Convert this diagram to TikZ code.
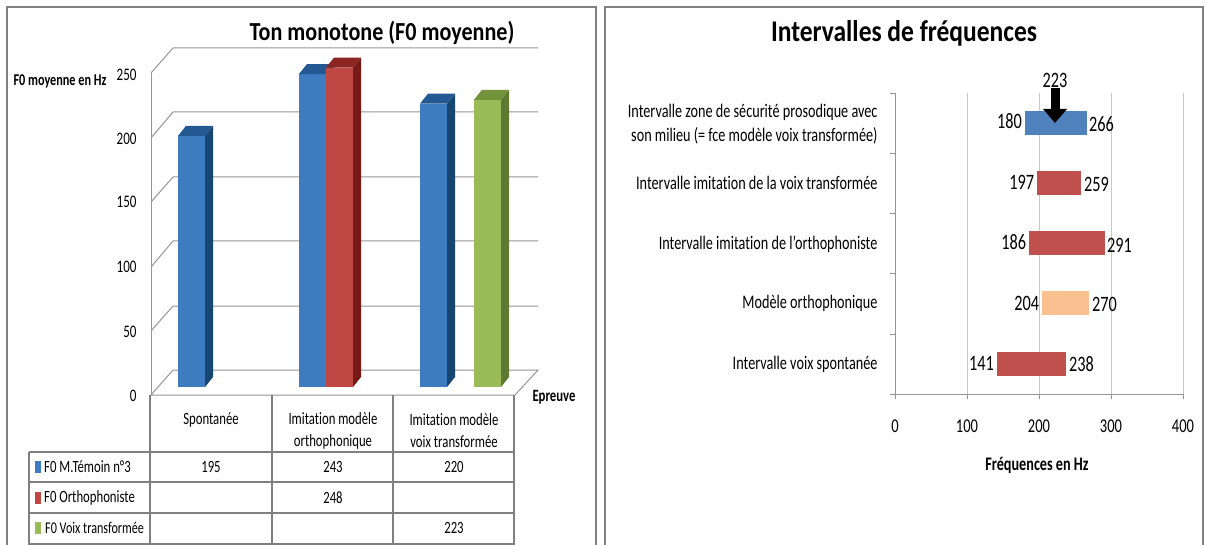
\documentclass[tikz,border=0pt]{standalone}
\usepackage{fontspec}
\setmainfont[FakeStretch=0.74, Ligatures=NoCommon]{Carlito}
\newfontfamily\titlefont[FakeStretch=0.85, Ligatures=NoCommon]{Carlito}
\usetikzlibrary{arrows.meta}

\definecolor{bluefront}{RGB}{63,124,191}
\definecolor{blueside}{RGB}{22,70,114}
\definecolor{bluetop}{RGB}{36,88,146}
\definecolor{redfront}{RGB}{192,72,68}
\definecolor{redside}{RGB}{118,26,23}
\definecolor{redtop}{RGB}{140,36,33}
\definecolor{greenfront}{RGB}{155,187,89}
\definecolor{greenside}{RGB}{94,122,48}
\definecolor{greentop}{RGB}{114,146,60}
\definecolor{zoneblue}{RGB}{79,129,189}
\definecolor{zonered}{RGB}{192,80,77}
\definecolor{zonepeach}{RGB}{250,192,144}
\definecolor{framegray}{RGB}{128,128,128}
\definecolor{gridgray}{RGB}{150,150,150}
\definecolor{lightgrid}{RGB}{200,200,200}

\newcommand{\colbar}[5]{%
  \fill[#3] (#1,387) rectangle ++(27,-#2*1.288);
  \fill[#4] (#1+27,387) -- ++(8,-10) -- ++(0,-#2*1.288) -- ++(-8,10) -- cycle;
  \fill[#5] (#1,387-#2*1.288) -- ++(8,-10) -- ++(27,0) -- ++(-8,10) -- cycle;
}

\begin{document}
\begin{tikzpicture}[x=1pt, y=-1pt,
    panel/.style={draw=framegray, line width=1.3pt},
    wall/.style={draw=gridgray, line width=1pt},
    cell/.style={draw=framegray, line width=1.1pt},
    axisline/.style={draw=gridgray, line width=0.9pt},
    vgrid/.style={draw=lightgrid, line width=0.9pt},
    charttitle/.style={font=\titlefont\bfseries\fontsize{26}{30}\selectfont},
    bigtitle/.style={font=\titlefont\bfseries\fontsize{30}{34}\selectfont},
    axistitle/.style={font=\bfseries\fontsize{16.5}{19}\selectfont},
    ticklabel/.style={font=\fontsize{17.6}{20}\selectfont},
    celltext/.style={font=\fontsize{17.2}{22}\selectfont, align=center},
    catlabel/.style={font=\fontsize{19.2}{24}\selectfont, align=right, anchor=east},
    vallabel/.style={font=\fontsize{22}{24}\selectfont, inner sep=2.5pt},
    freqtick/.style={font=\fontsize{19.6}{22}\selectfont}]
                \useasboundingbox (0,0) rectangle (1206,545);
                \fill[white] (0,0) rectangle (1206,545);
                \draw[panel] (7,7) rectangle (596,560);
                \draw[panel] (605,7) rectangle (1203,560);

                \node[charttitle] (titleF) at (382,33) {Ton monotone (F0 moyenne)};
                \node[axistitle] (unitF) at (60,81) {F0 moyenne en Hz};
                \node[ticklabel, anchor=east] (tick250) at (140,75) {250};
                \node[ticklabel, anchor=east] (tick200) at (140,139) {200};
                \node[ticklabel, anchor=east] (tick150) at (140,202) {150};
                \node[ticklabel, anchor=east] (tick100) at (140,267) {100};
                \node[ticklabel, anchor=east] (tick50) at (140,332) {50};
                \node[ticklabel, anchor=east] (tick0) at (140,396) {0};

                \draw[wall] (151,73) -- (173,48) -- (538,48);
                \draw[wall] (151,138) -- (173,112) -- (538,112);
                \draw[wall] (151,202) -- (173,177) -- (538,177);
                \draw[wall] (151,267) -- (173,241) -- (538,241);
                \draw[wall] (151,331) -- (173,306) -- (538,306);
                \draw[wall] (151,395) -- (173,370) -- (538,370) -- (515,395) -- cycle;
                \draw[wall] (151,73) -- (151,395);

                \colbar{178}{195}{bluefront}{blueside}{bluetop}
                \colbar{299}{243}{bluefront}{blueside}{bluetop}
                \colbar{326}{248}{redfront}{redside}{redtop}
                \colbar{420}{220}{bluefront}{blueside}{bluetop}
                \colbar{474}{223}{greenfront}{greenside}{greentop}

                \node[axistitle, font=\bfseries\fontsize{17.2}{20}\selectfont] (epreuve) at (554,397) {Epreuve};

                \draw[cell] (150,395) -- (150,560);
                \draw[cell] (272,395) -- (272,560);
                \draw[cell] (393,395) -- (393,560);
                \draw[cell] (514,395) -- (514,560);
                \draw[cell] (29,452) -- (29,560);
                \draw[cell] (29,452) -- (514,452);
                \draw[cell] (29,482) -- (514,482);
                \draw[cell] (29,513) -- (514,513);
                \draw[cell] (29,544) -- (514,544);

                \node[celltext] (headSpont) at (211,420) {Spontanée};
                \node[celltext] (headOrtho) at (333,431) {Imitation modèle\\orthophonique};
                \node[celltext] (headVoix) at (454,431) {Imitation modèle\\voix transformée};

                \fill[bluefront] (35,461) rectangle (41,473);
                \node[celltext, anchor=west, inner sep=1pt] (rowTemoin) at (43,467) {F0 M.Témoin n°3};
                \fill[redfront] (35,492) rectangle (41,504);
                \node[celltext, anchor=west, inner sep=1pt] (rowOrtho) at (43,498) {F0 Orthophoniste};
                \fill[greenfront] (35,522) rectangle (41,534);
                \node[celltext, anchor=west, inner sep=1pt, font=\fontsize{16.4}{22}\selectfont] (rowVoix) at (44,528) {F0 Voix transformée};

                \node[celltext] (valTemoinA) at (211,467) {195};
                \node[celltext] (valTemoinB) at (333,467) {243};
                \node[celltext] (valTemoinC) at (454,467) {220};
                \node[celltext] (valOrthoB) at (333,498) {248};
                \node[celltext] (valVoixC) at (454,528) {223};

                \node[bigtitle] (titleI) at (904,33) {Intervalles de fréquences};

                \draw[vgrid] (967,93) -- (967,394);
                \draw[vgrid] (1039,93) -- (1039,394);
                \draw[vgrid] (1111,93) -- (1111,394);
                \draw[vgrid] (1183,93) -- (1183,394);
                \draw[axisline] (895,93) -- (895,394) -- (1183,394);
                \draw[axisline] (890,93) -- (895,93);
                \draw[axisline] (890,153) -- (895,153);
                \draw[axisline] (890,213) -- (895,213);
                \draw[axisline] (890,273) -- (895,273);
                \draw[axisline] (890,334) -- (895,334);
                \draw[axisline] (890,394) -- (895,394);
                \draw[axisline] (895,394) -- (895,399);
                \draw[axisline] (967,394) -- (967,399);
                \draw[axisline] (1039,394) -- (1039,399);
                \draw[axisline] (1111,394) -- (1111,399);
                \draw[axisline] (1183,394) -- (1183,399);

                \node[catlabel] (catZone) at (881,124) {Intervalle zone de sécurité prosodique avec\\son milieu (= fce modèle voix transformée)};
                \node[catlabel] (catImitVoix) at (881,183) {Intervalle imitation de la voix transformée};
                \node[catlabel] (catImitOrtho) at (881,244) {Intervalle imitation de l'orthophoniste};
                \node[catlabel] (catModele) at (881,303) {Modèle orthophonique};
                \node[catlabel] (catSpont) at (881,364) {Intervalle voix spontanée};

                \fill[zoneblue] (895+0.72*180,111) rectangle (895+0.72*266,135);
                \fill[zonered] (895+0.72*197,171) rectangle (895+0.72*259,195);
                \fill[zonered] (895+0.72*186,231) rectangle (895+0.72*291,255);
                \fill[zonepeach] (895+0.72*204,291) rectangle (895+0.72*270,315);
                \fill[zonered] (895+0.72*141,352) rectangle (895+0.72*238,376);

                \node[vallabel, anchor=east] (lo180) at (895+0.72*180,121) {180};
                \node[vallabel, anchor=west] (hi266) at (895+0.72*266,124) {266};
                \node[vallabel, anchor=east] (lo197) at (895+0.72*197,182) {197};
                \node[vallabel, anchor=west] (hi259) at (895+0.72*259,184) {259};
                \node[vallabel, anchor=east] (lo186) at (895+0.72*186,242) {186};
                \node[vallabel, anchor=west] (hi291) at (895+0.72*291,245) {291};
                \node[vallabel, anchor=east] (lo204) at (895+0.72*204,303) {204};
                \node[vallabel, anchor=west] (hi270) at (895+0.72*270,304) {270};
                \node[vallabel, anchor=east] (lo141) at (895+0.72*141,363) {141};
                \node[vallabel, anchor=west] (hi238) at (895+0.72*238,364) {238};

                \node[vallabel, inner sep=1pt] (mid223) at (1055,80) {223};
                \coordinate (midZone) at (1055,123);
                \draw[line width=9pt, -{Triangle[width=23pt,length=14pt]}] (mid223) -- (midZone);

                \node[freqtick] (f0) at (895,426) {0};
                \node[freqtick] (f100) at (967,426) {100};
                \node[freqtick] (f200) at (1039,426) {200};
                \node[freqtick] (f300) at (1111,426) {300};
                \node[freqtick] (f400) at (1183,426) {400};
                \node[axistitle, font=\bfseries\fontsize{19.2}{22}\selectfont] (freqUnit) at (1037,465) {Fréquences en Hz};
\end{tikzpicture}
\end{document}
